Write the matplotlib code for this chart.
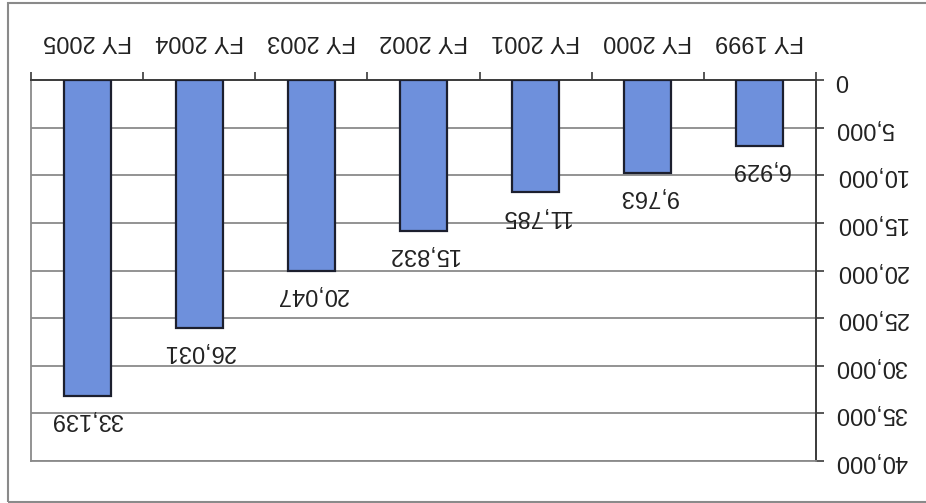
import matplotlib.pyplot as plt
from matplotlib.patches import Rectangle
from matplotlib.ticker import FuncFormatter, FixedLocator

# chart is shown upside down (rotated 180 degrees), like the source scan
years = ["FY 1999", "FY 2000", "FY 2001", "FY 2002", "FY 2003", "FY 2004", "FY 2005"]
values = [6929, 9763, 11785, 15832, 20047, 26031, 33139]
y_ticks = [0, 5000, 10000, 15000, 20000, 25000, 30000, 35000, 40000]

plt.rcParams["font.family"] = ["Liberation Sans", "DejaVu Sans"]

fig = plt.figure(figsize=(9.26, 5.03), dpi=100)
ax = fig.add_axes([31 / 926, 42 / 503, 785 / 926, 381 / 503])

xs = list(range(len(years)))
bars = ax.bar(xs, values, width=0.42, color="#6E90DC", edgecolor="#1c1f2e",
              linewidth=1.6, zorder=3)

ax.set_xlim(-0.5, len(years) - 0.5)
ax.set_ylim(0, 40000)
ax.invert_xaxis()
ax.invert_yaxis()

# gridlines
for t in y_ticks[1:]:
    ax.axhline(t, color="#8a8a8a", linewidth=1.3, zorder=1)

# axes: zero line on top, value axis on the right
ax.xaxis.tick_top()
ax.yaxis.tick_right()
ax.spines["top"].set_color("#3a3a3a")
ax.spines["top"].set_linewidth(1.4)
ax.spines["right"].set_color("#3a3a3a")
ax.spines["right"].set_linewidth(1.4)
ax.spines["left"].set_color("#8a8a8a")
ax.spines["left"].set_linewidth(1.3)
ax.spines["bottom"].set_color("#8a8a8a")
ax.spines["bottom"].set_linewidth(1.3)

ax.set_xticks(xs)
ax.set_xticklabels(years, rotation=180, fontsize=17, color="#222222")
ax.xaxis.set_minor_locator(FixedLocator([i - 0.5 for i in range(len(years) + 1)]))
ax.tick_params(axis="x", which="major", length=0, pad=20)
ax.tick_params(axis="x", which="minor", length=6, width=1.2, color="#3a3a3a",
               direction="out", top=True, bottom=False)

ax.set_yticks(y_ticks)
ax.yaxis.set_major_formatter(FuncFormatter(lambda v, p: f"{int(v):,}"))
for lab in ax.get_yticklabels():
    lab.set_rotation(180)
    lab.set_fontsize(17)
    lab.set_color("#222222")
    lab.set_horizontalalignment("left")
    lab.set_verticalalignment("center")
ax.tick_params(axis="y", length=6, width=1.2, color="#3a3a3a", direction="out",
               pad=8, right=True, left=False)

# value labels beyond bar ends
for x, v in zip(xs, values):
    ax.annotate(f"{v:,}", xy=(x, v), xytext=(0, -9), textcoords="offset points",
                rotation=180, ha="center", va="top", fontsize=17, color="#222222")

# outer chart frame
fig.patches.append(Rectangle((8 / 926, 1 / 503), 930 / 926, 499 / 503,
                             transform=fig.transFigure, fill=False,
                             edgecolor="#8a8a8a", linewidth=1.5))

fig.savefig("out.png", dpi=100)
